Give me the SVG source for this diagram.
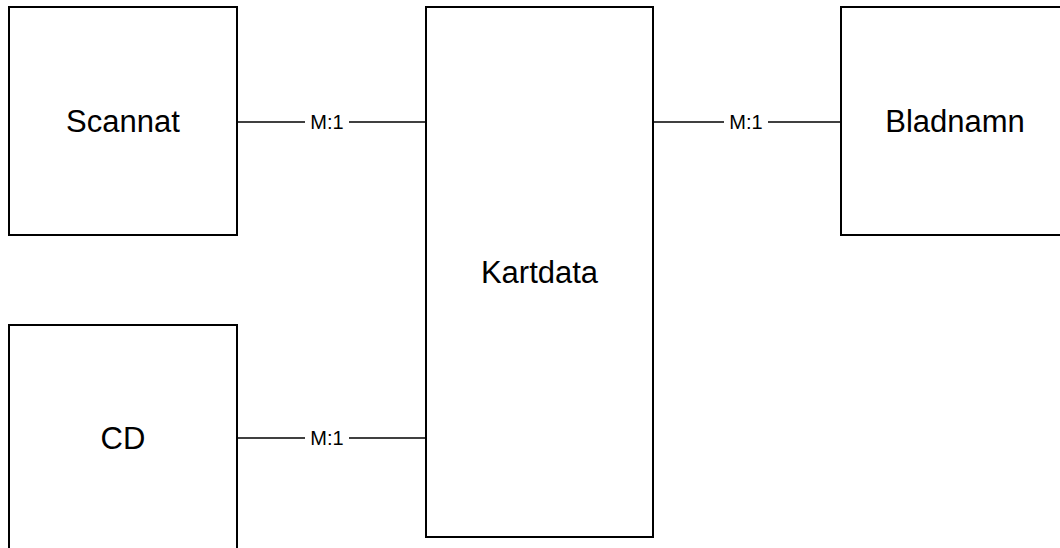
<svg xmlns="http://www.w3.org/2000/svg" width="1060" height="548" viewBox="0 0 1060 548">
<style>
.box{fill:#fff;stroke:#000;stroke-width:2}
.lbl{font-family:"Liberation Sans",Arial,sans-serif;font-size:31px;fill:#000;text-anchor:middle;dominant-baseline:central}
.edge{stroke:#000;stroke-width:1.5;fill:none}
.el{font-family:"Liberation Sans",Arial,sans-serif;font-size:20px;fill:#000;text-anchor:middle;dominant-baseline:central}
</style>
<rect width="1060" height="548" fill="#fff"/>
<g id="connectors">
<line class="edge" x1="237" y1="122" x2="426" y2="122"/>
<rect x="305" y="112" width="44" height="20" fill="#fff"/>
<text class="el" x="327" y="122">M:1</text>
<line class="edge" x1="237" y1="438" x2="426" y2="438"/>
<rect x="305" y="428" width="44" height="20" fill="#fff"/>
<text class="el" x="327" y="438">M:1</text>
<line class="edge" x1="653" y1="122" x2="841" y2="122"/>
<rect x="724" y="112" width="44" height="20" fill="#fff"/>
<text class="el" x="746" y="122">M:1</text>
</g>
<g id="scannat">
<rect class="box" x="9" y="7" width="228" height="228"/>
<text class="lbl" x="123" y="121">Scannat</text>
</g>
<g id="cd">
<rect class="box" x="9" y="325" width="228" height="228"/>
<text class="lbl" x="123" y="438">CD</text>
</g>
<g id="kartdata">
<rect class="box" x="426" y="7" width="227" height="530"/>
<text class="lbl" x="539.5" y="272">Kartdata</text>
</g>
<g id="bladnamn">
<rect class="box" x="841" y="7" width="228" height="228"/>
<text class="lbl" x="955" y="121">Bladnamn</text>
</g>
</svg>
